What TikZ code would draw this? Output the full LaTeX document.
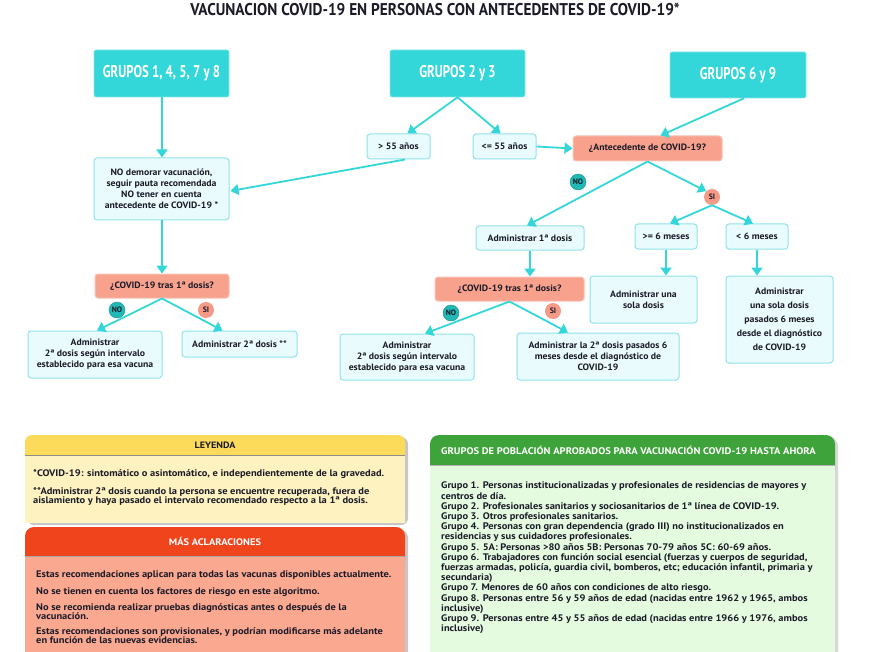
\documentclass[tikz,border=0pt]{standalone}
\usepackage{fontspec}
\setmainfont{PT Sans}
\newfontfamily\titlef[FakeStretch=0.9]{PT Sans}
\newfontfamily\grpf[FakeStretch=0.75]{PT Sans}
\newfontfamily\bodyf[FakeStretch=1.1]{PT Sans}
\newfontfamily\flowf[FakeStretch=1.06]{PT Sans}
\usetikzlibrary{arrows.meta,calc}
\definecolor{turq}{HTML}{33D6D9}
\definecolor{lfill}{HTML}{E9FBFC}
\definecolor{lborder}{HTML}{8FE3EA}
\definecolor{salm}{HTML}{F8A28D}
\definecolor{salmb}{HTML}{F6C3B6}
\definecolor{noc}{HTML}{22B8B5}
\definecolor{sic}{HTML}{F49A86}
\definecolor{ink}{HTML}{1B1B28}
\definecolor{yhead}{HTML}{FCDB5A}
\definecolor{ybody}{HTML}{FDF2C0}
\definecolor{ohead}{HTML}{F0441C}
\definecolor{obody}{HTML}{FBA891}
\definecolor{ghead}{HTML}{3FA33B}
\definecolor{gbody}{HTML}{E4FBE0}
\begin{document}
\begin{tikzpicture}[x=1pt,y=-1pt,
  grp/.style={fill=turq, draw=turq!60!white, line width=0.6pt, rounded corners=2pt, text=white, inner sep=0,
     font=\grpf\bfseries\fontsize{17}{17}\selectfont},
  lbox/.style={fill=lfill, draw=lborder, line width=1pt, rounded corners=3pt, align=center, text=ink, inner sep=0,
     font=\flowf\bfseries\fontsize{9.2}{11}\selectfont},
  qbox/.style={lbox, fill=salm, draw=salmb},
  lab/.style={circle, inner sep=0, minimum size=16pt, text=ink, font=\bfseries\fontsize{7.8}{8}\selectfont},
  arr/.style={draw=turq, line width=1.8pt, -{Triangle[length=8pt,width=11pt]}},
  ptxt/.style={inner sep=0, text=ink, align=left, font=\bodyf\bfseries\fontsize{9.5}{9.6}\selectfont},
]
\useasboundingbox (0,0) rectangle (869,652);
\clip (0,0) rectangle (869,652);

% title
\node[inner sep=0, text=ink, font=\titlef\bfseries\fontsize{17}{17}\selectfont] (title) at (435,9) {VACUNACION COVID-19 EN PERSONAS CON ANTECEDENTES DE COVID-19*};

% groups
\node[grp, minimum width=135pt, minimum height=47pt] (g1) at (161.5,73.5) {GRUPOS 1, 4, 5, 7 y 8};
\node[grp, minimum width=135pt, minimum height=47pt] (g2) at (457.5,73.5) {GRUPOS 2 y 3};
\node[grp, minimum width=136pt, minimum height=46pt] (g3) at (738,75) {GRUPOS 6 y 9};

% row boxes
\node[lbox, minimum width=63pt, minimum height=25pt] (gt55) at (398.5,146.5) {> 55 años};
\node[lbox, minimum width=63pt, minimum height=25pt] (le55) at (504.5,146.5) {<= 55 años};
\node[qbox, minimum width=149pt, minimum height=25pt] (ante) at (647.5,148.5) {¿Antecedente de COVID-19?};
\node[lbox, minimum width=135pt, minimum height=62pt] (nodem) at (161.5,189) {NO demorar vacunación,\\ seguir pauta recomendada\\ NO tener en cuenta\\ antecedente de COVID-19 *};
\node[qbox, minimum width=134pt, minimum height=24pt] (cov1) at (162,286) {¿COVID-19 tras 1ª dosis?};
\node[lbox, minimum width=134pt, minimum height=47pt] (fin1) at (95,354.5) {Administrar\\ 2ª dosis según intervalo\\ establecido para esa vacuna};
\node[lbox, minimum width=115pt, minimum height=26pt] (fin2) at (239.5,344) {Administrar 2ª dosis **};
\node[lbox, minimum width=108pt, minimum height=24pt] (adm1) at (530,238) {Administrar 1ª dosis};
\node[qbox, minimum width=149pt, minimum height=24pt] (cov2) at (509.5,289) {¿COVID-19 tras 1ª dosis?};
\node[lbox, minimum width=134pt, minimum height=46pt] (fin3) at (407,357) {Administrar\\ 2ª dosis según intervalo\\ establecido para esa vacuna};
\node[lbox, minimum width=162pt, minimum height=47pt] (fin4) at (598,356.5) {Administrar la 2ª dosis pasados 6\\ meses desde el diagnóstico de\\ COVID-19};
\node[lbox, minimum width=62pt, minimum height=25pt] (ge6) at (666,236.5) {>= 6 meses};
\node[lbox, minimum width=62pt, minimum height=25pt] (lt6) at (757,236.5) {< 6 meses};
\node[lbox, minimum width=107pt, minimum height=47pt] (una) at (643.5,299.5) {Administrar una\\ sola dosis};
\node[lbox, minimum width=107pt, minimum height=87pt, font=\flowf\bfseries\fontsize{9.2}{14}\selectfont] (unap) at (779.5,319.5) {Administrar\\ una sola dosis\\ pasados 6 meses\\ desde el diagnóstico\\ de COVID-19};

% labels
\node[lab, fill=noc, draw=noc!80!black] (no1) at (117,310) {NO};
\node[lab, fill=sic] (si1) at (206,310) {SI};
\node[lab, fill=noc, draw=noc!80!black] (no2) at (451,313) {NO};
\node[lab, fill=sic] (si2) at (553,311) {SI};
\node[lab, fill=noc, draw=noc!80!black] (no3) at (578,182) {NO};
\node[lab, fill=sic] (si3) at (712,197) {SI};

% connectors
\draw[arr] ($(g1.south)+(0.5,0)$) -- ($(nodem.north)+(0.5,0)$);
\draw[arr] (g2.south) -- ($(gt55.north)+(9,0)$);
\draw[arr] (g2.south) -- ($(le55.north)+(-4,0)$);
\draw[arr] ($(g3.south)+(6,0)$) -- ($(ante.north)+(13,0)$);
\draw[arr] ($(gt55.south)+(6.5,0)$) -- ($(nodem.east)+(1,2)$);
\draw[arr] (le55.east) -- (ante.west);
\draw[arr] ($(nodem.south)+(0.5,0)$) -- ($(cov1.north)+(0,0)$);
\draw[arr] (cov1.south) -- ($(fin1.north)+(2,0)$);
\draw[arr] (cov1.south) -- ($(fin2.north)+(-17,0)$);
\draw[arr] (ante.south) -- ($(adm1.north)+(-3,0)$);
\draw[arr] (ante.south) -- (si3.north west);
\draw[arr] (si3.south) -- ($(ge6.north)+(4,0)$);
\draw[arr] (si3.south) -- ($(lt6.north)+(-4,0)$);
\draw[arr] (adm1.south) -- (adm1.south |- cov2.north);
\draw[arr] (cov2.south) -- ($(fin3.north)+(18,0)$);
\draw[arr] (cov2.south) -- ($(fin4.north)+(-30,0)$);
\draw[arr] (ge6.south) -- (ge6.south |- una.north);
\draw[arr] (lt6.south) -- (lt6.south |- unap.north);

% bottom panels: shadows
\fill[black!22, rounded corners=7pt] (27,437) rectangle (408,525);
\fill[black!22, rounded corners=9pt] (27,529) rectangle (408,670);
\fill[black!15, rounded corners=9pt] (432,437) rectangle (838,670);
% leyenda
\fill[yhead, rounded corners=7pt] (25,435) rectangle (405,465);
\fill[ybody] (25,455) rectangle (405,523);
\draw[black!45, line width=0.7pt] (25,455) -- (405,455);
% mas aclaraciones
\fill[ohead, rounded corners=9pt] (25,527) rectangle (405,570);
\fill[obody] (25,556) rectangle (405,670);
\draw[black!35, line width=0.7pt] (25,556) -- (405,556);
% grupos
\fill[ghead, rounded corners=9pt] (430,435) rectangle (835,480);
\fill[gbody] (430,465) rectangle (835,670);
\draw[black!30, line width=0.7pt] (430,465) -- (835,465);

\node[inner sep=0, text=ink, font=\bodyf\bfseries\fontsize{9.2}{9}\selectfont] (leyh) at (215,445) {LEYENDA};
\node[ptxt, anchor=west] (ley1) at (33,474) {*COVID-19: sintomático o asintomático, e independientemente de la gravedad.};
\node[ptxt, anchor=north west, font=\bodyf\bfseries\fontsize{9.5}{9.8}\selectfont] (ley2) at (33,487) {**Administrar 2ª dosis cuando la persona se encuentre recuperada, fuera de\\ aislamiento y haya pasado el intervalo recomendado respecto a la 1ª dosis.};

\node[inner sep=0, text=white, font=\bodyf\bfseries\fontsize{9.5}{9}\selectfont] (mash) at (215,541) {MÁS ACLARACIONES};
\node[ptxt, anchor=west] (mas1) at (36,575) {Estas recomendaciones aplican para todas las vacunas disponibles actualmente.};
\node[ptxt, anchor=west] (mas2) at (36,592) {No se tienen en cuenta los factores de riesgo en este algoritmo.};
\node[ptxt, anchor=north west, font=\bodyf\bfseries\fontsize{9.5}{9}\selectfont] (mas3) at (36,603) {No se recomienda realizar pruebas diagnósticas antes o después de la\\ vacunación.};
\node[ptxt, anchor=north west, font=\bodyf\bfseries\fontsize{9.5}{9}\selectfont] (mas4) at (36,627) {Estas recomendaciones son provisionales, y podrían modificarse más adelante\\ en función de las nuevas evidencias.};

\node[inner sep=0, anchor=west, text=white, font=\bodyf\bfseries\fontsize{9.6}{9}\selectfont] (grph) at (441,450) {GRUPOS DE POBLACIÓN APROBADOS PARA VACUNACIÓN COVID-19 HASTA AHORA};
\node[ptxt, anchor=north west, font=\bodyf\bfseries\fontsize{9.5}{10.2}\selectfont] (grpt) at (441,482) {Grupo 1. Personas institucionalizadas y profesionales de residencias de mayores y\\
centros de día.\\
Grupo 2. Profesionales sanitarios y sociosanitarios de 1ª línea de COVID-19.\\
Grupo 3. Otros profesionales sanitarios.\\
Grupo 4. Personas con gran dependencia (grado III) no institucionalizados en\\
residencias y sus cuidadores profesionales.\\
Grupo 5. 5A: Personas >80 años 5B: Personas 70-79 años 5C: 60-69 años.\\
Grupo 6. Trabajadores con función social esencial (fuerzas y cuerpos de seguridad,\\
fuerzas armadas, policía, guardia civil, bomberos, etc; educación infantil, primaria y\\
secundaria)\\
Grupo 7. Menores de 60 años con condiciones de alto riesgo.\\
Grupo 8. Personas entre 56 y 59 años de edad (nacidas entre 1962 y 1965, ambos\\
inclusive)\\
Grupo 9. Personas entre 45 y 55 años de edad (nacidas entre 1966 y 1976, ambos\\
inclusive)};
\end{tikzpicture}
\end{document}
